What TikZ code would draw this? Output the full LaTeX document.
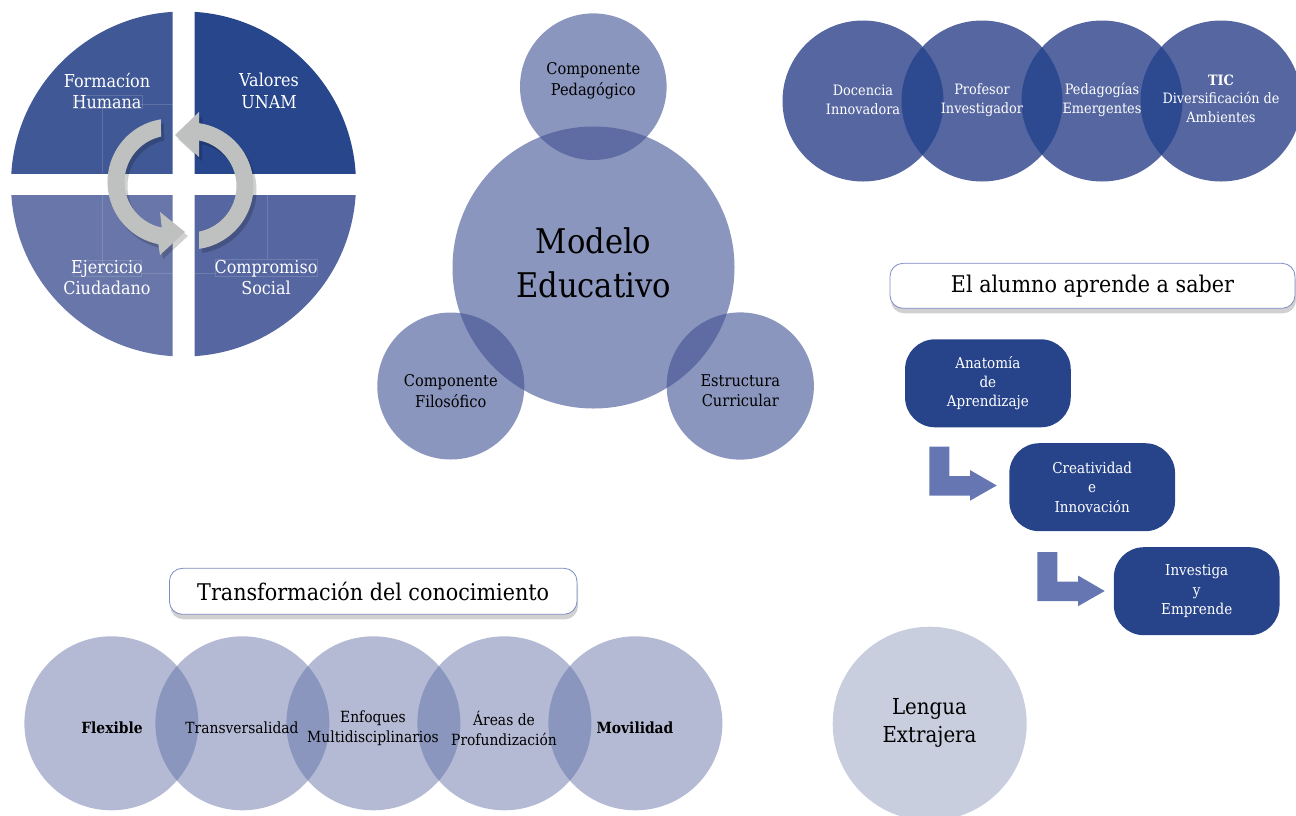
\documentclass[tikz,border=0pt]{standalone}
\usepackage{fontspec}
\setmainfont{DejaVu Serif}[FakeStretch=0.9]
\usetikzlibrary{shadows,calc}
\definecolor{qTL}{RGB}{64,88,150}
\definecolor{qTR}{RGB}{40,70,140}
\definecolor{qBL}{RGB}{104,118,170}
\definecolor{qBR}{RGB}{85,102,160}
\definecolor{arrowgray}{RGB}{191,192,192}
\definecolor{midfill}{RGB}{138,150,190}
\definecolor{midover}{RGB}{94,108,163}
\definecolor{trfill}{RGB}{85,102,160}
\definecolor{trover}{RGB}{45,74,145}
\definecolor{botfill}{RGB}{180,186,212}
\definecolor{botover}{RGB}{138,150,190}
\definecolor{lengfill}{RGB}{200,206,222}
\definecolor{boxblue}{RGB}{39,68,138}
\definecolor{bentblue}{RGB}{102,118,178}
\definecolor{titleline}{RGB}{125,140,195}
\begin{document}
\begin{tikzpicture}[x=1pt,y=-1pt,
  quadtext/.style={text=white,align=center,font=\fontsize{17.8}{21.3}\selectfont},
  midtext/.style={text=black,align=center,font=\fontsize{16.2}{20.5}\selectfont},
  bigtext/.style={text=black,align=center,font=\fontsize{34}{44}\selectfont},
  trtext/.style={text=white,align=center,font=\fontsize{14.3}{18.5}\selectfont},
  bottext/.style={text=black,align=center,font=\fontsize{15.4}{19.4}\selectfont},
  boxtext/.style={text=white,align=center,font=\fontsize{15}{19.3}\selectfont},
  stagebox/.style={fill=boxblue,rounded corners=30pt,minimum width=165.7pt,minimum height=88pt,inner sep=0pt},
  titlebox/.style={fill=white,draw=titleline,line width=0.8pt,rounded corners=13pt,inner sep=0pt,
     drop shadow={opacity=0.18,shadow xshift=1pt,shadow yshift=-5pt,fill=black}},
  titletext/.style={text=black,font=\fontsize{23}{27}\selectfont},
  faint/.style={draw=white,draw opacity=0.15,line width=0.6pt},
  bent/.style={fill=bentblue}
]
\useasboundingbox (0,0) rectangle (1296,815);

% ---------- quadrant circle ----------
\begin{scope}\clip (0,0) rectangle (172.5,173);\fill[qTL] (183.5,184) circle (172.5);\end{scope}
\begin{scope}\clip (194.5,0) rectangle (370,173);\fill[qTR] (183.5,184) circle (172.5);\end{scope}
\begin{scope}\clip (0,195) rectangle (172.5,370);\fill[qBL] (183.5,184) circle (172.5);\end{scope}
\begin{scope}\clip (194.5,195) rectangle (370,370);\fill[qBR] (183.5,184) circle (172.5);\end{scope}
% faint text-frame lines
\draw[faint] (102.3,173) -- (102.3,104.3) -- (172.5,104.3);
\draw[faint] (73.3,95.7) rectangle (142.3,108);
\draw[faint] (102.3,195) -- (102.3,267);
\draw[faint] (73.3,260) rectangle (141.7,276);
\draw[faint] (141.7,273.3) -- (172.5,273.3);
\draw[faint] (267.7,195) -- (267.7,259.3);
\draw[faint] (215,259.3) rectangle (317.7,276);
\draw[faint] (194.5,273.3) -- (215,273.3);

% circular arrows (shadow, then arrow)
\foreach \dx/\dy/\cc/\oo in {3/4/black/0.18, 0/0/arrowgray/1}{
  \fill[\cc,opacity=\oo,shift={(\dx,\dy)}]
    ($(171,182)+(260.9:63.5)$) arc[start angle=260.9,end angle=101.5,radius=63.5]
    -- (160,255) -- (185,232) -- (160,212)
    -- ($(171,182)+(101.5:46.5)$) arc[start angle=101.5,end angle=257.6,radius=46.5] -- cycle;
  \fill[\cc,opacity=\oo,shift={(\dx,\dy)}]
    ($(190,186)+(81.85:63.5)$) arc[start angle=81.85,end angle=-81.85,radius=63.5]
    -- (199,112) -- (175,135) -- (199,157)
    -- ($(190,186)+(-78.8:46.5)$) arc[start angle=-78.8,end angle=78.8,radius=46.5] -- cycle;
}
\node[quadtext] (qa) at (107,91) {Formacíon\\Humana};
\node[quadtext] (qb) at (269,91) {Valores\\UNAM};
\node[quadtext] (qc) at (107,277.5) {Ejercicio\\Ciudadano};
\node[quadtext] (qd) at (266,277.5) {Compromiso\\Social};

% ---------- Modelo Educativo ----------
\fill[midfill] (593.5,267.5) circle (141);
\fill[midfill] (593.3,86.7) circle (73.3);
\fill[midfill] (450.8,386) circle (73.5);
\fill[midfill] (740.3,386) circle (73.6);
\begin{scope}\clip (593.5,267.5) circle (141);
  \fill[midover] (593.3,86.7) circle (73.3);
  \fill[midover] (450.8,386) circle (73.5);
  \fill[midover] (740.3,386) circle (73.6);
\end{scope}
\node[bigtext] (me) at (593.5,263) {Modelo\\Educativo};
\node[midtext] (cp) at (593.3,81) {Componente\\Pedagógico};
\node[midtext] (cf) at (450.8,391) {Componente\\Filosófico};
\node[midtext] (ec) at (740.3,390.5) {Estructura\\Curricular};

% ---------- top-right chain ----------
\foreach \cx in {863,982,1102,1221}{\fill[trfill] (\cx,101) circle (80.5);}
\begin{scope}\clip (863,101) circle (80.5);\fill[trover] (982,101) circle (80.5);\end{scope}
\begin{scope}\clip (982,101) circle (80.5);\fill[trover] (1102,101) circle (80.5);\end{scope}
\begin{scope}\clip (1102,101) circle (80.5);\fill[trover] (1221,101) circle (80.5);\end{scope}
\node[trtext] (t1) at (863,100) {Docencia\\Innovadora};
\node[trtext] (t2) at (982,100) {Profesor\\Investigador};
\node[trtext] (t3) at (1102,100) {Pedagogías\\Emergentes};
\node[trtext] (t4) at (1221,98.5) {\textbf{TIC}\\Diversificación de\\Ambientes};

% ---------- El alumno aprende a saber ----------
\node[titlebox,minimum width=405pt,minimum height=45pt] (tb1) at (1092.5,285.8) {};
\node[titletext] (tt1) at (tb1.center) {El alumno aprende a saber};

\node[stagebox] (s1) at (987.9,383.3) {};
\node[boxtext] (s1t) at (s1.center) {Anatomía\\de\\Aprendizaje};
\node[stagebox] (s2) at (1092.2,487.2) {};
\node[boxtext] (s2t) at (s2.center) {Creatividad\\e\\Innovación};
\node[stagebox] (s3) at (1196.7,591.2) {};
\node[boxtext] (s3t) at (s3.center) {Investiga\\y\\Emprende};

\foreach \sx/\sy in {0/0,108/105.5}{
  \fill[bent,shift={(\sx,\sy)}] (929.3,446.7) -- (949.3,446.7) -- (949.3,476) -- (970,476) -- (970,470)
     -- (996.7,485.5) -- (970,500.7) -- (970,495.7) -- (929.3,495.7) -- cycle;
}

% ---------- Transformación del conocimiento ----------
\node[titlebox,minimum width=407.6pt,minimum height=46pt] (tb2) at (373.2,591.3) {};
\node[titletext] (tt2) at (tb2.center) {Transformación del conocimiento};

\foreach \cx in {111.4,242.4,373.4,504.4,635.4}{\fill[botfill] (\cx,723.3) circle (87);}
\begin{scope}\clip (111.4,723.3) circle (87);\fill[botover] (242.4,723.3) circle (87);\end{scope}
\begin{scope}\clip (242.4,723.3) circle (87);\fill[botover] (373.4,723.3) circle (87);\end{scope}
\begin{scope}\clip (373.4,723.3) circle (87);\fill[botover] (504.4,723.3) circle (87);\end{scope}
\begin{scope}\clip (504.4,723.3) circle (87);\fill[botover] (635.4,723.3) circle (87);\end{scope}
\node[bottext] (b1) at (112,727.7) {\textbf{Flexible}};
\node[bottext] (b2) at (242,727.7) {Transversalidad};
\node[bottext] (b3) at (373,728.3) {Enfoques\\Multidisciplinarios};
\node[bottext] (b4) at (504,728.3) {Áreas de\\Profundización};
\node[bottext] (b5) at (635,727.7) {\textbf{Movilidad}};

% ---------- Lengua Extrajera ----------
\fill[lengfill] (929.7,723.7) circle (97);
\node[text=black,align=center,font=\fontsize{22}{28}\selectfont] (le) at (929.5,723) {Lengua\\Extrajera};
\end{tikzpicture}
\end{document}
